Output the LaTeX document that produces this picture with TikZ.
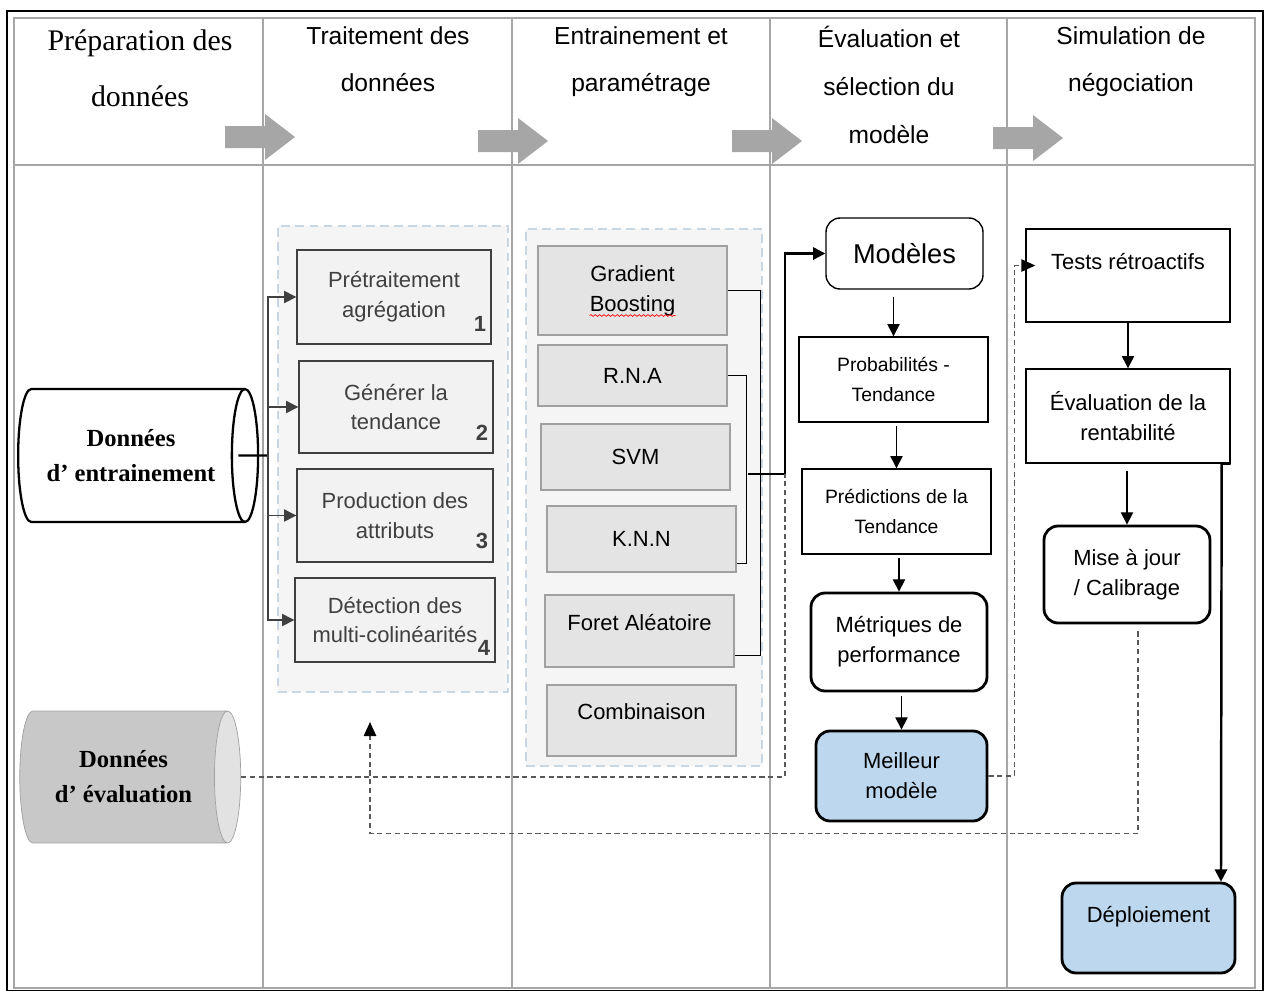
\documentclass[tikz,border=0pt]{standalone}
\usepackage{fontspec}
\setmainfont{Liberation Serif}
\setsansfont{Liberation Sans}
\usepackage{tikz}
\usetikzlibrary{positioning, shapes.geometric, arrows.meta, calc, decorations.pathmorphing}

\definecolor{lanegray}{HTML}{A6A6A6}
\definecolor{hdrgray}{HTML}{A6A6A6}
\definecolor{groupblue}{HTML}{C9D6E3}
\definecolor{groupfill}{HTML}{F5F5F5}
\definecolor{prepgray}{HTML}{404040}
\definecolor{prepfill}{HTML}{F2F2F2}
\definecolor{algoline}{HTML}{A0A0A0}
\definecolor{algofill}{HTML}{E4E4E4}
\definecolor{bestblue}{HTML}{BDD7EE}
\definecolor{dashgray}{HTML}{595959}
\definecolor{evalline}{HTML}{A0A0A0}
\definecolor{evalbody}{HTML}{C8C8C8}
\definecolor{evalend}{HTML}{E2E2E2}

\tikzset{
    lane/.style={draw=lanegray, line width=0.6pt},
    hdr/.style={align=center, inner sep=0pt, anchor=north, font=\sffamily\fontsize{14}{27.2}\selectfont},
    group/.style={draw=groupblue, fill=groupfill, line width=1pt, dash pattern=on 5pt off 3pt},
    prepbox/.style={draw=prepgray, fill=prepfill, text=prepgray, line width=0.8pt, align=center, inner sep=0pt, font=\sffamily\fontsize{12.5}{17}\selectfont},
    algobox/.style={draw=algoline, fill=algofill, line width=0.8pt, align=center, inner sep=0pt, font=\sffamily\fontsize{12.5}{17}\selectfont},
    stepbox/.style={draw, fill=white, line width=0.8pt, align=center, inner sep=0pt, font=\sffamily\fontsize{12.5}{17}\selectfont},
    roundbox/.style={stepbox, rounded corners=8pt, line width=1.6pt},
    bestbox/.style={roundbox, fill=bestblue},
    num/.style={anchor=south east, inner sep=3pt, yshift=0.16cm, text=prepgray, font=\sffamily\bfseries\fontsize{12.5}{14}\selectfont},
    datacyl/.style={cylinder, aspect=0.5, align=center, inner sep=0pt, font=\rmfamily\bfseries\fontsize{14}{20}\selectfont},
    flow/.style={-{Triangle[length=7pt,width=7pt]}, line width=0.7pt},
    feed/.style={draw=dashgray, line width=1pt, dash pattern=on 3pt off 2pt},
    feedtip/.style={-{Triangle[length=8pt,width=7pt,black]}}
}

\begin{document}
\begin{tikzpicture}[x=0.02cm, y=-0.02cm]
    \useasboundingbox (0,0) rectangle (1269,991);

    % Frame and lanes
    \draw[line width=1.1pt] (7,11) rectangle (1263,991);
    \draw[lane] (14,18) rectangle (1255,988);
    \draw[lane] (14,165) -- (1255,165);
    \foreach \x in {263,512,770,1007} {
      \draw[lane] (\x,18) -- (\x,988);
    }

    % Lane titles
    \node[hdr, font=\rmfamily\fontsize{17}{32}\selectfont] (h1) at (140,29) {Préparation des\\données};
    \node[hdr] (h2) at (388,26) {Traitement des\\données};
    \node[hdr] (h3) at (641,26) {Entrainement et\\paramétrage};
    \node[hdr] (h4) at (889,26) {Évaluation et\\sélection du\\modèle};
    \node[hdr] (h5) at (1131,26) {Simulation de\\négociation};

    % Gray arrows between the lanes
    \foreach \ax/\ay in {225/137, 478/141, 732/141, 993/138} {
      \fill[hdrgray] (\ax,\ay-11) -- (\ax+40,\ay-11) -- (\ax+40,\ay-23) -- (\ax+70,\ay)
        -- (\ax+40,\ay+23) -- (\ax+40,\ay+11) -- (\ax,\ay+11) -- cycle;
    }

    % Data sources
    \node[datacyl, draw, fill=white, line width=1.3pt, minimum width=2.66cm, minimum height=4.8cm] (train) at (131,455.5) {Données\\d’ entrainement};
    \node[datacyl, draw=evalline, cylinder uses custom fill, cylinder body fill=evalbody, cylinder end fill=evalend, minimum width=2.64cm, minimum height=4.42cm] (eval) at (123.5,777) {Données\\d’ évaluation};

    % Data processing
    \node[group, minimum width=4.6cm, minimum height=9.32cm] (grp1) at (393,459) {};
    \node[prepbox, minimum width=3.88cm, minimum height=1.88cm] (pre) at (394,297) {Prétraitement\\agrégation};
    \node[prepbox, minimum width=3.88cm, minimum height=1.84cm] (gen) at (396,407) {Générer la\\tendance};
    \node[prepbox, minimum width=3.92cm, minimum height=1.86cm] (prod) at (395,515.5) {Production des\\attributs};
    \node[prepbox, minimum width=4.0cm, minimum height=1.68cm] (detect) at (395,620) {Détection des\\multi-colinéarités};
    \node[num] (n1) at (pre.south east) {1};
    \node[num] (n2) at (gen.south east) {2};
    \node[num] (n3) at (prod.south east) {3};
    \node[num, yshift=-0.12cm] (n4) at (detect.south east) {4};

    \coordinate (bus) at (268,455.5);
    \draw[line width=1.3pt] ([xshift=-0.42cm]train.east) -- (bus);
    \foreach \b in {pre, gen, prod, detect} {
      \draw[flow, draw=prepgray] (bus) |- (\b.west);
    }

    % Training algorithms
    \node[group, minimum width=4.72cm, minimum height=10.74cm] (grp2) at (644,497.5) {};
    \node[algobox, minimum width=3.78cm, minimum height=1.78cm] (gb) at (632.5,290.5) {Gradient\\Boosting};
    \node[algobox, minimum width=3.78cm, minimum height=1.22cm] (rna) at (632.5,375.5) {R.N.A};
    \node[algobox, minimum width=3.78cm, minimum height=1.32cm] (svm) at (635.5,457) {SVM};
    \node[algobox, minimum width=3.78cm, minimum height=1.32cm] (knn) at (641.5,539) {K.N.N};
    \node[algobox, minimum width=3.78cm, minimum height=1.44cm, text depth=10pt] (rf) at (639.5,631) {Foret Aléatoire};
    \node[algobox, minimum width=3.78cm, minimum height=1.42cm, text depth=10pt] (comb) at (641.5,720.5) {Combinaison};
    \draw[red, line width=0.4pt, decorate, decoration={snake, amplitude=0.5pt, segment length=2.5pt}] ($(gb)+(-43,25)$) -- ($(gb)+(43,25)$);

    \draw[line width=0.8pt] (gb.east) -- ++(33,0) |- ([yshift=0.24cm]rf.south east);
    \draw[line width=0.8pt] (rna.east) -- ++(19,0) |- ([yshift=0.18cm]knn.south east);

    % Evaluation and model selection
    \node[stepbox, rounded corners=8pt, minimum width=3.14cm, minimum height=1.42cm, font=\sffamily\fontsize{15.5}{18}\selectfont] (mod) at (904.5,253.5) {Modèles};
    \node[stepbox, minimum width=3.78cm, minimum height=1.7cm, font=\sffamily\fontsize{11}{17}\selectfont] (prob) at (893.5,379.5) {Probabilités -\\Tendance};
    \node[stepbox, minimum width=3.78cm, minimum height=1.7cm, font=\sffamily\fontsize{11}{17}\selectfont] (pred) at (896.5,511.5) {Prédictions de la\\Tendance};
    \node[roundbox, minimum width=3.52cm, minimum height=1.96cm] (metr) at (899,642) {Métriques de\\performance};
    \node[bestbox, minimum width=3.42cm, minimum height=1.8cm] (best) at (901.5,776) {Meilleur\\modèle};

    \coordinate (mrg) at (748,474);
    \coordinate (jn) at (785,474);
    \draw[flow, line width=1.4pt] (mrg) -- (jn) |- (mod.west);
    \draw[feed] (eval.east) -| (jn);

    \draw[flow, shorten <=4pt] (prob.north |- mod.south) -- (prob.north);
    \draw[flow, shorten <=2pt] (pred.north |- prob.south) -- (pred.north);
    \draw[flow, shorten <=2pt] (metr.north |- pred.south) -- (metr.north);
    \draw[flow, shorten <=2pt] (best.north |- metr.south) -- (best.north);

    % Trading simulation
    \node[stepbox, minimum width=4.08cm, minimum height=1.86cm, text depth=16pt] (tests) at (1128,275.5) {Tests rétroactifs};
    \node[stepbox, minimum width=4.08cm, minimum height=1.88cm] (rent) at (1128,416) {Évaluation de la\\rentabilité};
    \node[roundbox, minimum width=3.32cm, minimum height=1.94cm] (maj) at (1127,574.5) {Mise à jour\\/ Calibrage};
    \node[bestbox, minimum width=3.46cm, minimum height=1.8cm, text depth=15pt] (depl) at (1148.5,928) {Déploiement};

    \draw[flow] (tests.south -| rent.north) -- (rent.north);
    \draw[flow, shorten <=4pt] (maj.north |- rent.south) -- (maj.north);
    \draw[flow, line width=1.4pt] (rent.south east) -- ++(-9,0) -- ([xshift=1.45cm]depl.north);

    % Feedback paths
    \coordinate (fbup) at (370,722);
    \draw[feed, feedtip] (best.east) -- ++(26,0) |- ([xshift=0.2cm, yshift=0.2cm]tests.west);
    \draw[feed, feedtip, shorten <=4pt] ([xshift=0.22cm]maj.south) -- ++(0,209) -| (fbup);
\end{tikzpicture}
\end{document}
